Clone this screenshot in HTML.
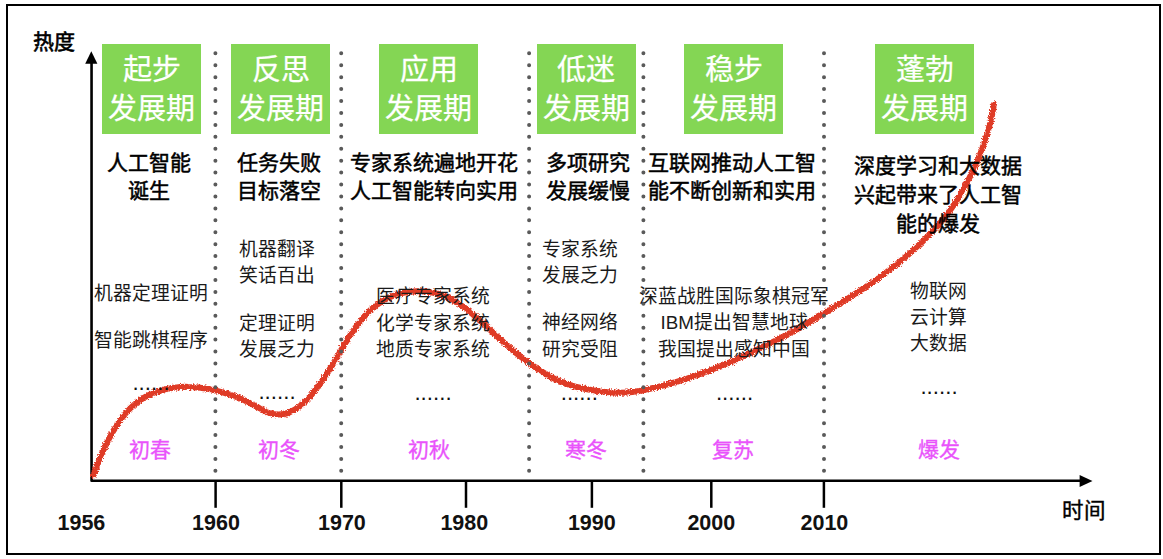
<!DOCTYPE html>
<html lang="zh-CN">
<head>
<meta charset="utf-8">
<title>人工智能发展历程</title>
<style>
html,body{margin:0;padding:0;background:#fff;}
body{width:1163px;height:559px;position:relative;overflow:hidden;font-family:"Liberation Sans",sans-serif;color:#000;}
.frame{position:absolute;left:6px;top:4px;width:1155px;height:551px;box-sizing:border-box;border:2px solid #000;}
svg{position:absolute;left:0;top:0;}
.gb{position:absolute;top:44px;width:99px;height:89.5px;background:#84d654;color:#fff;-webkit-text-stroke:0.25px #fff;text-align:center;font-size:29px;line-height:39px;padding-top:6.5px;box-sizing:border-box;white-space:nowrap;}
.hd,.bd,.el,.ss,.yr{position:absolute;width:300px;text-align:center;white-space:nowrap;}
.hd{font-size:21px;font-weight:400;color:#000;-webkit-text-stroke:0.5px #000;}
.bd{font-size:18.8px;color:#1a1a1a;}
.el{font-size:22.3px;line-height:40px;height:40px;color:#111;}
.ss{font-size:21px;line-height:30px;top:435px;color:#e953fb;-webkit-text-stroke:0.35px #e953fb;}
.yr{font-size:21.5px;line-height:30px;top:507.5px;font-weight:700;color:#111;}
.ax{position:absolute;font-size:21.5px;font-weight:400;-webkit-text-stroke:0.6px #000;line-height:30px;white-space:nowrap;}
</style>
</head>
<body>
<div class="frame"></div>
<svg width="1163" height="559" viewBox="0 0 1163 559">
<defs>
<filter id="rough" x="-2%" y="-2%" width="104%" height="104%">
<feTurbulence type="fractalNoise" baseFrequency="0.75" numOctaves="2" seed="3" result="n"/>
<feDisplacementMap in="SourceGraphic" in2="n" scale="4.5" xChannelSelector="R" yChannelSelector="G" result="d"/>
<feGaussianBlur in="d" stdDeviation="0.35"/>
</filter>
</defs>
<g stroke="#000" stroke-width="2.5" fill="none">
<path d="M91.55 62 L91.55 480.8 L1081 480.8" stroke-width="2.6" stroke-linejoin="round"/>
<line x1="215.6" y1="480.7" x2="215.6" y2="507.8" />
<line x1="341.3" y1="480.7" x2="341.3" y2="507.8" />
<line x1="466.0" y1="480.7" x2="466.0" y2="507.8" />
<line x1="591.9" y1="480.7" x2="591.9" y2="507.8" />
<line x1="711.3" y1="480.7" x2="711.3" y2="507.8" />
<line x1="823.9" y1="480.7" x2="823.9" y2="507.8" />
</g>
<polygon points="91.3,51.3 97.4,63.8 85.2,63.8" fill="#000"/>
<polygon points="1092.5,480.9 1079.6,474.9 1079.6,486.9" fill="#000"/>
<path d="M93.6 475.2C94.7 472.2 98.0 462.8 100.4 457.0C102.9 451.2 105.5 445.5 108.2 440.2C110.9 434.9 113.8 429.9 116.7 425.4C119.6 420.9 122.6 416.9 125.6 413.4C128.6 409.8 131.7 406.7 134.7 404.2C137.7 401.6 140.7 399.7 143.7 397.9C146.7 396.1 149.6 394.6 152.6 393.3C155.6 392.1 158.6 391.1 161.6 390.3C164.5 389.4 167.5 388.7 170.5 388.2C173.5 387.7 176.5 387.4 179.4 387.1C182.4 386.9 185.4 386.8 188.4 386.9C191.4 386.9 194.3 387.1 197.3 387.4C200.3 387.7 203.3 388.1 206.3 388.6C209.3 389.1 212.2 389.7 215.2 390.4C218.2 391.1 221.2 391.9 224.2 392.8C227.2 393.7 230.1 394.7 233.1 395.8C236.1 396.9 239.1 398.0 242.1 399.3C245.1 400.6 247.9 402.1 250.9 403.6C253.8 405.1 256.8 406.9 259.8 408.4C262.7 409.9 265.6 411.6 268.7 412.6C271.9 413.7 275.1 414.6 278.5 414.6C281.8 414.6 285.4 414.0 288.9 412.6C292.5 411.2 296.2 409.2 299.9 406.2C303.6 403.3 307.5 399.3 311.1 395.2C314.8 391.0 318.5 386.0 322.0 381.1C325.4 376.3 328.6 371.0 331.7 366.0C334.8 361.0 337.8 355.8 340.6 351.0C343.5 346.2 346.2 341.6 348.8 337.4C351.5 333.3 354.0 329.6 356.6 326.1C359.2 322.5 361.8 319.2 364.5 316.2C367.1 313.2 369.8 310.6 372.6 308.1C375.5 305.7 378.5 303.5 381.6 301.6C384.7 299.6 388.0 297.9 391.4 296.4C394.8 295.0 398.4 293.8 402.0 293.0C405.7 292.1 409.7 291.6 413.3 291.4C417.0 291.2 420.5 291.4 423.8 291.6C427.1 291.9 430.2 292.2 433.3 292.8C436.4 293.4 439.4 294.3 442.4 295.4C445.5 296.5 448.4 297.8 451.5 299.5C454.7 301.2 457.8 303.1 461.3 305.4C464.7 307.8 468.4 310.7 472.0 313.6C475.7 316.6 479.4 320.1 483.0 323.3C486.5 326.5 489.9 329.7 493.4 333.0C497.0 336.2 500.6 339.6 504.3 342.9C508.1 346.2 511.9 349.6 515.9 352.9C520.0 356.2 524.2 359.4 528.5 362.5C532.8 365.7 537.3 368.8 541.8 371.6C546.3 374.4 550.9 377.1 555.4 379.2C560.0 381.4 564.4 383.1 568.9 384.6C573.3 386.1 577.8 387.3 582.3 388.3C586.8 389.3 591.5 390.1 596.0 390.8C600.4 391.4 604.7 392.0 609.0 392.3C613.3 392.6 617.5 392.8 621.7 392.8C625.9 392.7 630.1 392.3 634.3 391.8C638.5 391.2 642.7 390.5 647.0 389.5C651.3 388.6 655.6 387.5 660.0 386.3C664.5 385.2 669.2 383.9 673.7 382.6C678.2 381.3 682.6 379.9 687.1 378.5C691.6 377.0 696.1 375.5 700.5 373.9C705.0 372.3 709.5 370.5 714.0 368.7C718.4 367.0 722.9 365.1 727.4 363.2C731.9 361.3 736.3 359.3 740.8 357.3C745.3 355.2 749.8 353.2 754.2 351.1C758.7 348.9 763.2 346.7 767.7 344.5C772.1 342.3 776.7 340.0 781.1 337.6C785.6 335.3 790.0 333.0 794.4 330.6C798.9 328.1 803.4 325.6 807.8 322.9C812.3 320.3 816.8 317.6 821.3 314.9C825.8 312.2 830.2 309.4 834.7 306.6C839.2 303.8 843.7 301.0 848.3 298.2C852.8 295.3 857.3 292.5 861.8 289.5C866.3 286.5 870.9 283.5 875.4 280.4C879.9 277.2 884.4 273.9 888.7 270.5C893.0 267.2 897.2 263.9 901.3 260.5C905.3 257.2 909.1 253.8 912.9 250.4C916.7 247.0 920.4 243.7 924.0 240.2C927.6 236.6 931.0 233.1 934.4 229.4C937.8 225.7 941.2 221.8 944.4 217.8C947.6 213.8 950.6 209.6 953.4 205.5C956.2 201.3 958.9 197.1 961.3 192.9C963.8 188.7 966.1 184.4 968.3 180.2C970.5 175.9 972.6 171.6 974.6 167.3C976.6 163.0 978.4 158.7 980.1 154.4C981.8 150.1 983.4 145.7 984.8 141.4C986.3 137.1 987.6 132.7 988.7 128.5C989.9 124.3 990.9 120.1 991.8 116.0C992.7 112.0 993.6 106.2 994.0 104.2" fill="none" stroke="#df3a27" stroke-width="6" stroke-linecap="round" stroke-linejoin="round" filter="url(#rough)"/>
<g stroke="#5a5a5a" stroke-width="4" stroke-linecap="round" stroke-dasharray="0 11.93">
<line x1="215.4" y1="53.3" x2="215.4" y2="471.8" />
<line x1="341.2" y1="53.3" x2="341.2" y2="471.8" />
<line x1="529.1" y1="53.3" x2="529.1" y2="471.8" />
<line x1="643.4" y1="53.3" x2="643.4" y2="471.8" />
<line x1="824.0" y1="53.3" x2="824.0" y2="471.8" />
</g>
</svg>
<div class="gb" style="left:102.0px">起步<br>发展期</div>
<div class="gb" style="left:231.3px">反思<br>发展期</div>
<div class="gb" style="left:379.3px">应用<br>发展期</div>
<div class="gb" style="left:536.9px">低迷<br>发展期</div>
<div class="gb" style="left:684.0px">稳步<br>发展期</div>
<div class="gb" style="left:875.3px">蓬勃<br>发展期</div>
<div class="hd" style="left:-1.0px;top:148.7px;line-height:28.2px">人工智能<br>诞生</div>
<div class="hd" style="left:128.5px;top:148.7px;line-height:28.2px">任务失败<br>目标落空</div>
<div class="hd" style="left:283.5px;top:148.7px;line-height:28.2px">专家系统遍地开花<br>人工智能转向实用</div>
<div class="hd" style="left:438.0px;top:148.7px;line-height:28.2px">多项研究<br>发展缓慢</div>
<div class="hd" style="left:581.8px;top:148.7px;line-height:28.2px">互联网推动人工智<br>能不断创新和实用</div>
<div class="hd" style="left:788.1px;top:152.2px;line-height:28.9px">深度学习和大数据<br>兴起带来了人工智<br>能的爆发</div>
<div class="bd" style="left:1.0px;top:269.9px;line-height:47.3px">机器定理证明<br>智能跳棋程序</div>
<div class="bd" style="left:127.2px;top:236.6px;line-height:26.5px">机器翻译<br>笑话百出</div>
<div class="bd" style="left:127.2px;top:311.0px;line-height:26.0px">定理证明<br>发展乏力</div>
<div class="bd" style="left:282.8px;top:284.2px;line-height:26.4px">医疗专家系统<br>化学专家系统<br>地质专家系统</div>
<div class="bd" style="left:429.8px;top:237.2px;line-height:26.3px">专家系统<br>发展乏力</div>
<div class="bd" style="left:429.5px;top:310.3px;line-height:26.6px">神经网络<br>研究受阻</div>
<div class="bd" style="left:584.3px;top:283.9px;line-height:26.6px">深蓝战胜国际象棋冠军<br>IBM提出智慧地球<br>我国提出感知中国</div>
<div class="bd" style="left:788.3px;top:278.8px;line-height:26.3px">物联网<br>云计算<br>大数据</div>
<div class="el" style="left:1.0px;top:363.4px">......</div>
<div class="el" style="left:127.0px;top:372.3px">......</div>
<div class="el" style="left:283.0px;top:372.7px">......</div>
<div class="el" style="left:429.3px;top:372.7px">......</div>
<div class="el" style="left:584.5px;top:372.7px">......</div>
<div class="el" style="left:789.0px;top:367.0px">......</div>
<div class="ss" style="left:-0.5px">初春</div>
<div class="ss" style="left:129.0px">初冬</div>
<div class="ss" style="left:278.9px">初秋</div>
<div class="ss" style="left:436.0px">寒冬</div>
<div class="ss" style="left:582.8px">复苏</div>
<div class="ss" style="left:788.8px">爆发</div>
<div class="yr" style="left:-68.6px">1956</div>
<div class="yr" style="left:66.0px">1960</div>
<div class="yr" style="left:191.9px">1970</div>
<div class="yr" style="left:314.3px">1980</div>
<div class="yr" style="left:441.8px">1990</div>
<div class="yr" style="left:561.3px">2000</div>
<div class="yr" style="left:674.4px">2010</div>
<div class="ax" style="left:32.6px;top:27.4px;font-size:21px">热度</div>
<div class="ax" style="left:1062.4px;top:495.8px;-webkit-text-stroke-width:0.4px">时间</div>
</body>
</html>
